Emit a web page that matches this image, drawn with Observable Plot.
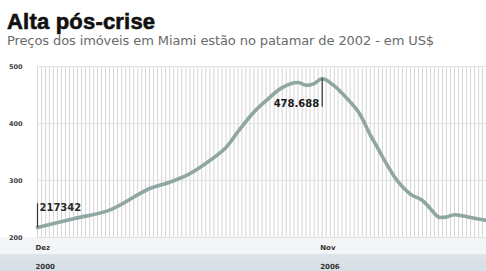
<!DOCTYPE html>
<html>
<head>
<meta charset="utf-8">
<script src="https://cdn.jsdelivr.net/npm/d3@7"></script>
<script src="https://cdn.jsdelivr.net/npm/@observablehq/plot@0.6"></script>
<style>
  html, body { margin: 0; padding: 0; background: #fff; width: 486px; height: 271px; overflow: hidden; }
  #wrap { position: relative; width: 486px; height: 271px; }
  #title { position: absolute; left: 7px; top: 11px; font-family: "Liberation Sans", Arial, sans-serif; font-weight: 700; font-size: 22px; line-height: 22px; color: #111; letter-spacing: 0.2px; -webkit-text-stroke: 0.6px #111; white-space: nowrap; }
  #subtitle { position: absolute; left: 7px; top: 34px; font-family: "DejaVu Sans", sans-serif; font-size: 13px; line-height: 14px; color: #6a6a6a; white-space: nowrap; letter-spacing: -0.1px; }
  #chart { position: absolute; left: 0; top: 55px; }
</style>
</head>
<body>
<div id="wrap">
  <div id="title">Alta pós-crise</div>
  <div id="subtitle">Preços dos imóveis em Miami estão no patamar de 2002 - em US$</div>
  <div id="chart"></div>
</div>
<script>
// Median home prices in Miami (thousands of US$)
const dates = [
  "2000-12-01","2001-09-01","2002-06-01","2003-04-01","2003-09-01","2004-02-01",
  "2004-07-01","2004-11-01","2005-02-01","2005-06-01","2005-09-01","2006-01-01",
  "2006-05-01","2006-07-01","2006-09-01","2006-11-01","2007-02-01","2007-04-01",
  "2007-08-01","2007-11-01","2008-01-01","2008-03-01","2008-06-01","2008-09-01",
  "2008-12-01","2009-02-01","2009-04-01","2009-06-01","2009-08-01","2009-12-01",
  "2010-04-01"
];
const values = [
  217.342, 233, 248, 286, 297, 312,
  335, 358, 386, 420, 440, 463,
  472, 467, 470, 478.688, 466, 453,
  421, 380, 355, 330, 297, 276,
  265, 250, 236, 236, 240, 235,
  230
];
const yTicks = [200, 300, 400, 500];
const xTickDates = ["2000-12-01", "2006-11-01"];
const xTickLabels = ["Dez\n2000", "Nov\n2006"];
const annotDates = ["2000-12-01", "2006-11-01"];
const annotValues = [217.342, 478.688];
const annotLabels = ["217342", "478.688"];

const data = dates.map((d, i) => ({date: new Date(d), value: values[i]}));
const xTicks = xTickDates.map(d => new Date(d));
const labelOf = new Map(xTicks.map((d, i) => [+d, xTickLabels[i]]));
const annots = annotDates.map((d, i) => ({date: new Date(d), value: annotValues[i], label: annotLabels[i]}));
const start = new Date(dates[0]);
const end = new Date(dates[dates.length - 1]);
const months = d3.utcMonth.range(start, d3.utcMonth.offset(end, 1));

const chart = Plot.plot({
  width: 486,
  height: 216,
  marginTop: 11,
  marginBottom: 34,
  marginLeft: 37,
  marginRight: 0,
  style: {
    background: "linear-gradient(to bottom, #ffffff 0px, #ffffff 182px, #f4f5f6 182px, #f4f5f6 199px, #dde4ea 199px, #d6dee5 216px)",
    fontFamily: "DejaVu Sans, sans-serif"
  },
  x: {type: "utc", domain: [start, end]},
  y: {domain: [200, 500]},
  marks: [
    Plot.gridX(months, {stroke: "#d4d4d4", strokeOpacity: 1, strokeWidth: 1}),
    Plot.gridY(yTicks, {stroke: "#e2e2e2", strokeOpacity: 1}),
    Plot.axisY(yTicks, {tickSize: 0, tickPadding: 15, fontSize: 6.5, fontWeight: "bold", fill: "#444", label: null}),
    Plot.axisX(xTicks, {
      tickSize: 0, tickPadding: 0, fontSize: 7, fontWeight: "bold", fill: "#333",
      textAnchor: "start", dx: -2, lineHeight: 2.6,
      tickFormat: d => labelOf.get(+d), label: null
    }),
    Plot.line(data, {x: "date", y: "value", stroke: "#8fa6a2", strokeWidth: 3.6, curve: "catmull-rom"}),
    Plot.ruleX(annots.slice(0, 1), {x: "date", y1: "value", y2: d => d.value + 42, stroke: "#333", strokeWidth: 1.2}),
    Plot.ruleX(annots.slice(1), {x: "date", y1: "value", y2: d => d.value - 50, stroke: "#333", strokeWidth: 1.2}),
    Plot.text(annots.slice(0, 1), {x: "date", y: d => d.value + 42, text: "label", textAnchor: "start", lineAnchor: "top", dx: 2, fontSize: 10, fontWeight: 600, fill: "#2a2a2a"}),
    Plot.text(annots.slice(1), {x: "date", y: d => d.value - 50, text: "label", textAnchor: "end", lineAnchor: "bottom", dx: -3, fontSize: 10, fontWeight: 700, fill: "#1a1a1a"})
  ]
});
document.getElementById("chart").appendChild(chart);
</script>
</body>
</html>
